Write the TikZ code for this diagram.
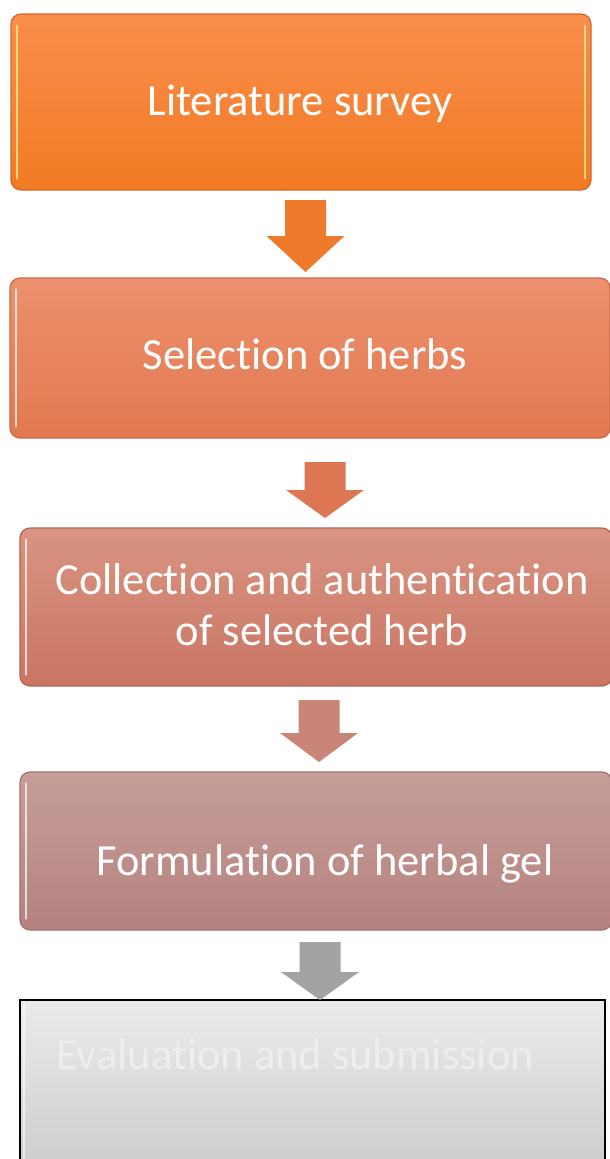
\documentclass[tikz,border=0pt]{standalone}
\usepackage{fontspec}
\setmainfont{Carlito}[Ligatures=NoCommon]
\usetikzlibrary{calc}
\definecolor{oA}{HTML}{F98E4C}\definecolor{oB}{HTML}{F27A24}\definecolor{oD}{HTML}{D06A26}
\definecolor{sA}{HTML}{EC916E}\definecolor{sB}{HTML}{E2784F}\definecolor{sD}{HTML}{C86A4A}
\definecolor{cA}{HTML}{DA9482}\definecolor{cB}{HTML}{C97563}\definecolor{cD}{HTML}{B06555}
\definecolor{pA}{HTML}{C69E98}\definecolor{pB}{HTML}{B5827F}\definecolor{pD}{HTML}{9E7370}
\definecolor{gA}{HTML}{EBEBEB}\definecolor{gB}{HTML}{C9C9C9}
\definecolor{aO}{HTML}{F07A2C}\definecolor{aS}{HTML}{DC7653}\definecolor{aC}{HTML}{C98578}\definecolor{aG}{HTML}{A3A3A3}
\tikzset{
  box/.style={rounded corners=10pt, line width=1.2pt, inner sep=0pt},
  txt/.style={text=white, font=\fontsize{44.5}{51}\selectfont, align=center, inner sep=0pt},
  hl/.style={line width=2pt, line cap=round, opacity=0.7},
}
\newcommand\blkarrow[6]{% name, cx, top, headstart, tip, color
  \coordinate (#1) at (#2,#3);
  \fill[#6] ($(#1)+(-20.5,0)$) -- ($(#1)+(20.5,0)$) -- ($(#1)+(20.5,#4-#3)$) -- ($(#1)+(39,#4-#3)$)
     -- ($(#1)+(0,#5-#3)$) -- ($(#1)+(-39,#4-#3)$) -- ($(#1)+(-20.5,#4-#3)$) -- cycle;}
\begin{document}
\begin{tikzpicture}[x=1pt,y=-1pt]
\useasboundingbox (0,0) rectangle (610,1159);
\clip (0,0) rectangle (610,1159);
\fill[white] (0,0) rectangle (610,1159);
% boxes
\node[box, draw=oD, top color=oA, bottom color=oB, minimum width=580pt, minimum height=176pt] (b1) at (301,102) {};
\node[box, draw=sD, top color=sA, bottom color=sB, minimum width=600pt, minimum height=160pt] (b2) at (310,358) {};
\node[box, draw=cD, top color=cA, bottom color=cB, minimum width=592pt, minimum height=158pt] (b3) at (316,607) {};
\node[box, draw=pD, top color=pA, bottom color=pB, minimum width=592pt, minimum height=158pt] (b4) at (316,851) {};
\node[draw=black, line width=1.6pt, top color=gA, bottom color=gB, minimum width=585pt, minimum height=190pt, inner sep=0pt] (b5) at (312.5,1095) {};
% bevel highlights
\draw[hl, draw=yellow!40!white] ($(b1.north west)+(7,12)$) -- ($(b1.south west)+(7,-12)$);
\draw[hl, draw=yellow!40!white] ($(b1.north east)+(-7,12)$) -- ($(b1.south east)+(-7,-12)$);
\draw[hl, draw=white] ($(b2.north west)+(7,12)$) -- ($(b2.south west)+(7,-12)$);
\draw[hl, draw=white] ($(b3.north west)+(7,12)$) -- ($(b3.south west)+(7,-12)$);
\draw[hl, draw=white] ($(b4.north west)+(7,12)$) -- ($(b4.south west)+(7,-12)$);
\draw[line width=1.5pt, draw=white, opacity=0.6] ($(b5.north west)+(5,4)$) -- ($(b5.south west)+(5,0)$);
% texts
\node[txt] (t1) at ($(b1.center)+(-1,2)$) {Literature survey};
\node[txt] (t2) at ($(b2.center)+(-5,-4)$) {Selection of herbs};
\node[txt] (t3) at ($(b3.center)+(6,-2)$) {Collection and authentication\\of selected herb};
\node[txt] (t4) at ($(b4.center)+(9,13)$) {Formulation of herbal gel};
\node[txt, text=gA!85!white, anchor=west] (t5) at (56,1054) {Evaluation and submission};
% arrows
\blkarrow{a1}{305.5}{200}{236}{272}{aO}
\blkarrow{a2}{325}{462}{490}{518}{aS}
\blkarrow{a3}{319}{700}{733}{762}{aC}
\blkarrow{a4}{320}{942}{972}{1000}{aG}
\end{tikzpicture}
\end{document}
